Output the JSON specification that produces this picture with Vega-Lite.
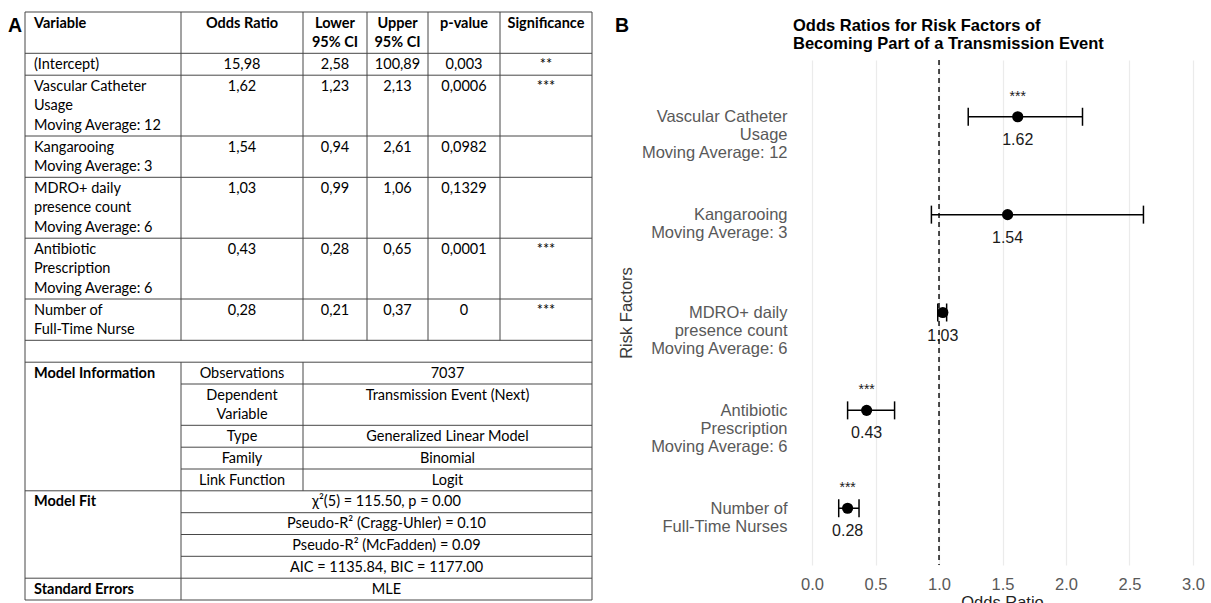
{
  "$schema": "https://vega.github.io/schema/vega-lite/v6.json",
  "width": 418,
  "height": 505,
  "autosize": {"type": "none"},
  "padding": {"left": 793, "top": 60, "right": 0, "bottom": 38},
  "background": "#ffffff",
  "config": {"view": {"stroke": null}, "font": "Liberation Sans"},
  "params": [{"name": "colEdges", "value": [0, 156, 278, 342, 403, 475, 567]}],
  "title": {
    "text": ["Odds Ratios for Risk Factors of", "Becoming Part of a Transmission Event"],
    "anchor": "start",
    "frame": "group",
    "font": "Liberation Sans",
    "fontSize": 16.5,
    "fontWeight": "bold",
    "color": "#000000",
    "lineHeight": 18,
    "baseline": "top",
    "offset": 0,
    "dy": 41
  },
  "datasets": {
    "factors": [
      {"factor": "Vascular Catheter\nUsage\nMoving Average: 12", "or": 1.62, "lower": 1.23, "upper": 2.13, "sig": "***"},
      {"factor": "Kangarooing\nMoving Average: 3", "or": 1.54, "lower": 0.94, "upper": 2.61, "sig": ""},
      {"factor": "MDRO+ daily\npresence count\nMoving Average: 6", "or": 1.03, "lower": 0.99, "upper": 1.06, "sig": ""},
      {"factor": "Antibiotic\nPrescription\nMoving Average: 6", "or": 0.43, "lower": 0.28, "upper": 0.65, "sig": "***"},
      {"factor": "Number of\nFull-Time Nurses", "or": 0.28, "lower": 0.21, "upper": 0.37, "sig": "***"}
    ],
    "reference": [{"nullEffect": 1}],
    "panels": [{"panel": "A", "edge": 0}, {"panel": "B", "edge": 6}],
    "cells": [
      {"line": 0, "c0": 0, "c1": 1, "text": "Variable", "kind": "heading"},
      {"line": 0, "c0": 1, "c1": 2, "text": "Odds Ratio", "kind": "heading"},
      {"line": 0, "c0": 2, "c1": 3, "text": "Lower\n95% CI", "kind": "heading"},
      {"line": 0, "c0": 3, "c1": 4, "text": "Upper\n95% CI", "kind": "heading"},
      {"line": 0, "c0": 4, "c1": 5, "text": "p-value", "kind": "heading"},
      {"line": 0, "c0": 5, "c1": 6, "text": "Significance", "kind": "heading"},
      {"line": 2, "c0": 0, "c1": 1, "text": "(Intercept)", "kind": "body"},
      {"line": 2, "c0": 1, "c1": 2, "text": "15,98", "kind": "body"},
      {"line": 2, "c0": 2, "c1": 3, "text": "2,58", "kind": "body"},
      {"line": 2, "c0": 3, "c1": 4, "text": "100,89", "kind": "body"},
      {"line": 2, "c0": 4, "c1": 5, "text": "0,003", "kind": "body"},
      {"line": 2, "c0": 5, "c1": 6, "text": "**", "kind": "body"},
      {"line": 3, "c0": 0, "c1": 1, "text": "Vascular Catheter\nUsage\nMoving Average: 12", "kind": "body"},
      {"line": 3, "c0": 1, "c1": 2, "text": "1,62", "kind": "body"},
      {"line": 3, "c0": 2, "c1": 3, "text": "1,23", "kind": "body"},
      {"line": 3, "c0": 3, "c1": 4, "text": "2,13", "kind": "body"},
      {"line": 3, "c0": 4, "c1": 5, "text": "0,0006", "kind": "body"},
      {"line": 3, "c0": 5, "c1": 6, "text": "***", "kind": "body"},
      {"line": 6, "c0": 0, "c1": 1, "text": "Kangarooing\nMoving Average: 3", "kind": "body"},
      {"line": 6, "c0": 1, "c1": 2, "text": "1,54", "kind": "body"},
      {"line": 6, "c0": 2, "c1": 3, "text": "0,94", "kind": "body"},
      {"line": 6, "c0": 3, "c1": 4, "text": "2,61", "kind": "body"},
      {"line": 6, "c0": 4, "c1": 5, "text": "0,0982", "kind": "body"},
      {"line": 8, "c0": 0, "c1": 1, "text": "MDRO+ daily\npresence count\nMoving Average: 6", "kind": "body"},
      {"line": 8, "c0": 1, "c1": 2, "text": "1,03", "kind": "body"},
      {"line": 8, "c0": 2, "c1": 3, "text": "0,99", "kind": "body"},
      {"line": 8, "c0": 3, "c1": 4, "text": "1,06", "kind": "body"},
      {"line": 8, "c0": 4, "c1": 5, "text": "0,1329", "kind": "body"},
      {"line": 11, "c0": 0, "c1": 1, "text": "Antibiotic\nPrescription\nMoving Average: 6", "kind": "body"},
      {"line": 11, "c0": 1, "c1": 2, "text": "0,43", "kind": "body"},
      {"line": 11, "c0": 2, "c1": 3, "text": "0,28", "kind": "body"},
      {"line": 11, "c0": 3, "c1": 4, "text": "0,65", "kind": "body"},
      {"line": 11, "c0": 4, "c1": 5, "text": "0,0001", "kind": "body"},
      {"line": 11, "c0": 5, "c1": 6, "text": "***", "kind": "body"},
      {"line": 14, "c0": 0, "c1": 1, "text": "Number of\nFull-Time Nurse", "kind": "body"},
      {"line": 14, "c0": 1, "c1": 2, "text": "0,28", "kind": "body"},
      {"line": 14, "c0": 2, "c1": 3, "text": "0,21", "kind": "body"},
      {"line": 14, "c0": 3, "c1": 4, "text": "0,37", "kind": "body"},
      {"line": 14, "c0": 4, "c1": 5, "text": "0", "kind": "body"},
      {"line": 14, "c0": 5, "c1": 6, "text": "***", "kind": "body"},
      {"line": 17, "c0": 0, "c1": 1, "text": "Model Information", "kind": "heading"},
      {"line": 17, "c0": 1, "c1": 2, "text": "Observations", "kind": "body"},
      {"line": 17, "c0": 2, "c1": 6, "text": "7037", "kind": "body"},
      {"line": 18, "c0": 1, "c1": 2, "text": "Dependent\nVariable", "kind": "body"},
      {"line": 18, "c0": 2, "c1": 6, "text": "Transmission Event (Next)", "kind": "body"},
      {"line": 20, "c0": 1, "c1": 2, "text": "Type", "kind": "body"},
      {"line": 20, "c0": 2, "c1": 6, "text": "Generalized Linear Model", "kind": "body"},
      {"line": 21, "c0": 1, "c1": 2, "text": "Family", "kind": "body"},
      {"line": 21, "c0": 2, "c1": 6, "text": "Binomial", "kind": "body"},
      {"line": 22, "c0": 1, "c1": 2, "text": "Link Function", "kind": "body"},
      {"line": 22, "c0": 2, "c1": 6, "text": "Logit", "kind": "body"},
      {"line": 23, "c0": 0, "c1": 1, "text": "Model Fit", "kind": "heading"},
      {"line": 23, "c0": 1, "c1": 6, "text": "χ²(5) = 115.50, p = 0.00", "kind": "body"},
      {"line": 24, "c0": 1, "c1": 6, "text": "Pseudo-R² (Cragg-Uhler) = 0.10", "kind": "body"},
      {"line": 25, "c0": 1, "c1": 6, "text": "Pseudo-R² (McFadden) = 0.09", "kind": "body"},
      {"line": 26, "c0": 1, "c1": 6, "text": "AIC = 1135.84, BIC = 1177.00", "kind": "body"},
      {"line": 27, "c0": 0, "c1": 1, "text": "Standard Errors", "kind": "heading"},
      {"line": 27, "c0": 1, "c1": 6, "text": "MLE", "kind": "body"}
    ],
    "hlines": [
      {"line": 0, "c0": 0, "c1": 6}, {"line": 2, "c0": 0, "c1": 6}, {"line": 3, "c0": 0, "c1": 6},
      {"line": 6, "c0": 0, "c1": 6}, {"line": 8, "c0": 0, "c1": 6}, {"line": 11, "c0": 0, "c1": 6},
      {"line": 14, "c0": 0, "c1": 6}, {"line": 16, "c0": 0, "c1": 6}, {"line": 17, "c0": 0, "c1": 6},
      {"line": 18, "c0": 1, "c1": 6}, {"line": 20, "c0": 1, "c1": 6}, {"line": 21, "c0": 1, "c1": 6},
      {"line": 22, "c0": 1, "c1": 6}, {"line": 23, "c0": 0, "c1": 6}, {"line": 24, "c0": 1, "c1": 6},
      {"line": 25, "c0": 1, "c1": 6}, {"line": 26, "c0": 1, "c1": 6}, {"line": 27, "c0": 0, "c1": 6},
      {"line": 28, "c0": 0, "c1": 6}
    ],
    "vlines": [
      {"col": 0, "l0": 0, "l1": 28}, {"col": 6, "l0": 0, "l1": 28},
      {"col": 1, "l0": 0, "l1": 16}, {"col": 1, "l0": 17, "l1": 28},
      {"col": 2, "l0": 0, "l1": 16}, {"col": 2, "l0": 17, "l1": 23},
      {"col": 3, "l0": 0, "l1": 16}, {"col": 4, "l0": 0, "l1": 16}, {"col": 5, "l0": 0, "l1": 16}
    ]
  },
  "layer": [
    {
      "data": {"name": "factors"},
      "mark": {"type": "rule", "color": "#000000", "strokeWidth": 1.5},
      "encoding": {
        "x": {"field": "lower", "type": "quantitative",
          "scale": {"domain": [-0.15, 3.142], "nice": false, "zero": false},
          "axis": {"title": "Odds Ratio", "values": [0, 0.5, 1, 1.5, 2, 2.5, 3], "format": ".1f",
            "labelFont": "Liberation Sans", "labelFontSize": 16.5, "labelColor": "#595959", "labelPadding": 11,
            "labelFlush": false, "ticks": false, "tickSize": 0, "domain": false,
            "grid": true, "gridColor": "#EBEBEB", "gridWidth": 1.2,
            "titleFont": "Liberation Sans", "titleFontSize": 16.5, "titleFontWeight": "normal",
            "titleColor": "#222222", "titlePadding": 2}},
        "x2": {"field": "upper"},
        "y": {"field": "factor", "type": "nominal", "sort": null,
          "scale": {"type": "point", "padding": 0.58},
          "axis": {"title": "Risk Factors", "labelExpr": "split(datum.value, '\\n')",
            "labelFont": "Liberation Sans", "labelFontSize": 16.5, "labelColor": "#595959",
            "labelLineHeight": 18, "labelAlign": "right", "labelBaseline": "middle", "labelPadding": 6,
            "labelLimit": 0, "ticks": false, "tickSize": 0, "domain": false, "grid": false,
            "titleFont": "Liberation Sans", "titleFontSize": 16.5, "titleFontWeight": "normal",
            "titleColor": "#3a3a3a", "titlePadding": 6}}
      }
    },
    {
      "data": {"name": "factors"},
      "mark": {"type": "tick", "size": 18, "thickness": 1.5, "color": "#000000", "opacity": 1},
      "encoding": {
        "x": {"field": "lower", "type": "quantitative", "scale": {"domain": [-0.15, 3.142], "nice": false, "zero": false}, "axis": null},
        "y": {"field": "factor", "type": "nominal", "sort": null, "scale": {"type": "point", "padding": 0.58}, "axis": null}
      }
    },
    {
      "data": {"name": "factors"},
      "mark": {"type": "tick", "size": 18, "thickness": 1.5, "color": "#000000", "opacity": 1},
      "encoding": {
        "x": {"field": "upper", "type": "quantitative", "scale": {"domain": [-0.15, 3.142], "nice": false, "zero": false}, "axis": null},
        "y": {"field": "factor", "type": "nominal", "sort": null, "scale": {"type": "point", "padding": 0.58}, "axis": null}
      }
    },
    {
      "data": {"name": "factors"},
      "mark": {"type": "point", "filled": true, "size": 125, "color": "#000000", "opacity": 1},
      "encoding": {
        "x": {"field": "or", "type": "quantitative", "scale": {"domain": [-0.15, 3.142], "nice": false, "zero": false}, "axis": null},
        "y": {"field": "factor", "type": "nominal", "sort": null, "scale": {"type": "point", "padding": 0.58}, "axis": null}
      }
    },
    {
      "data": {"name": "factors"},
      "mark": {"type": "text", "dy": 23, "font": "Liberation Sans", "fontSize": 16, "color": "#1a1a1a", "baseline": "middle"},
      "encoding": {
        "x": {"field": "or", "type": "quantitative", "scale": {"domain": [-0.15, 3.142], "nice": false, "zero": false}, "axis": null},
        "y": {"field": "factor", "type": "nominal", "sort": null, "scale": {"type": "point", "padding": 0.58}, "axis": null},
        "text": {"field": "or", "type": "quantitative", "format": ".2f"}
      }
    },
    {
      "data": {"name": "factors"},
      "mark": {"type": "text", "dy": -20, "font": "Liberation Sans", "fontSize": 14, "color": "#1a1a1a", "baseline": "middle"},
      "encoding": {
        "x": {"field": "or", "type": "quantitative", "scale": {"domain": [-0.15, 3.142], "nice": false, "zero": false}, "axis": null},
        "y": {"field": "factor", "type": "nominal", "sort": null, "scale": {"type": "point", "padding": 0.58}, "axis": null},
        "text": {"field": "sig", "type": "nominal"}
      }
    },
    {
      "data": {"name": "reference"},
      "mark": {"type": "rule", "color": "#000000", "strokeWidth": 1.4, "strokeDash": [5, 4]},
      "encoding": {
        "x": {"field": "nullEffect", "type": "quantitative", "scale": {"domain": [-0.15, 3.142], "nice": false, "zero": false}, "axis": null}
      }
    },
    {
      "data": {"name": "hlines"},
      "transform": [
        {"calculate": "colEdges[datum.c0]", "as": "xa"},
        {"calculate": "colEdges[datum.c1]", "as": "xb"}
      ],
      "mark": {"type": "rule", "color": "#474747", "strokeWidth": 1},
      "encoding": {
        "x": {"field": "xa", "type": "quantitative", "scale": {"domain": [0, 567], "range": [-768, -201], "nice": false, "zero": false}, "axis": null},
        "x2": {"field": "xb"},
        "y": {"field": "line", "type": "quantitative", "scale": {"domain": [0, 2, 3, 6, 8, 11, 14, 16, 17, 18, 20, 21, 22, 23, 24, 25, 26, 27, 28], "range": [-48, -6.7, 15.2, 76, 117.3, 178.2, 239, 280.3, 302.2, 324, 365.3, 387.2, 409, 430.8, 452.7, 474.5, 496.3, 518.2, 540], "nice": false, "zero": false}, "axis": null}
      }
    },
    {
      "data": {"name": "vlines"},
      "transform": [{"calculate": "colEdges[datum.col]", "as": "xa"}],
      "mark": {"type": "rule", "color": "#474747", "strokeWidth": 1},
      "encoding": {
        "x": {"field": "xa", "type": "quantitative", "scale": {"domain": [0, 567], "range": [-768, -201], "nice": false, "zero": false}, "axis": null},
        "y": {"field": "l0", "type": "quantitative", "scale": {"domain": [0, 2, 3, 6, 8, 11, 14, 16, 17, 18, 20, 21, 22, 23, 24, 25, 26, 27, 28], "range": [-48, -6.7, 15.2, 76, 117.3, 178.2, 239, 280.3, 302.2, 324, 365.3, 387.2, 409, 430.8, 452.7, 474.5, 496.3, 518.2, 540], "nice": false, "zero": false}, "axis": null},
        "y2": {"field": "l1"}
      }
    },
    {
      "data": {"name": "cells"},
      "transform": [
        {"filter": "datum.kind == 'heading' && datum.c0 == 0"},
        {"calculate": "colEdges[datum.c0]", "as": "xa"}
      ],
      "mark": {"type": "text", "align": "left", "baseline": "top", "dx": 9, "dy": 4.5, "font": "Lato", "fontSize": 14.5, "fontWeight": "bold", "color": "#000000", "lineBreak": "\n", "lineHeight": 19.5},
      "encoding": {
        "x": {"field": "xa", "type": "quantitative", "scale": {"domain": [0, 567], "range": [-768, -201], "nice": false, "zero": false}, "axis": null},
        "y": {"field": "line", "type": "quantitative", "scale": {"domain": [0, 2, 3, 6, 8, 11, 14, 16, 17, 18, 20, 21, 22, 23, 24, 25, 26, 27, 28], "range": [-48, -6.7, 15.2, 76, 117.3, 178.2, 239, 280.3, 302.2, 324, 365.3, 387.2, 409, 430.8, 452.7, 474.5, 496.3, 518.2, 540], "nice": false, "zero": false}, "axis": null},
        "text": {"field": "text", "type": "nominal"}
      }
    },
    {
      "data": {"name": "cells"},
      "transform": [
        {"filter": "datum.kind == 'body' && datum.c0 == 0"},
        {"calculate": "colEdges[datum.c0]", "as": "xa"}
      ],
      "mark": {"type": "text", "align": "left", "baseline": "top", "dx": 9, "dy": 4.5, "font": "Lato", "fontSize": 14.5, "color": "#000000", "lineBreak": "\n", "lineHeight": 19.5},
      "encoding": {
        "x": {"field": "xa", "type": "quantitative", "scale": {"domain": [0, 567], "range": [-768, -201], "nice": false, "zero": false}, "axis": null},
        "y": {"field": "line", "type": "quantitative", "scale": {"domain": [0, 2, 3, 6, 8, 11, 14, 16, 17, 18, 20, 21, 22, 23, 24, 25, 26, 27, 28], "range": [-48, -6.7, 15.2, 76, 117.3, 178.2, 239, 280.3, 302.2, 324, 365.3, 387.2, 409, 430.8, 452.7, 474.5, 496.3, 518.2, 540], "nice": false, "zero": false}, "axis": null},
        "text": {"field": "text", "type": "nominal"}
      }
    },
    {
      "data": {"name": "cells"},
      "transform": [
        {"filter": "datum.kind == 'heading' && datum.c0 > 0"},
        {"calculate": "(colEdges[datum.c0] + colEdges[datum.c1]) / 2", "as": "xm"}
      ],
      "mark": {"type": "text", "align": "center", "baseline": "top", "dy": 4.5, "font": "Lato", "fontSize": 14.5, "fontWeight": "bold", "color": "#000000", "lineBreak": "\n", "lineHeight": 19.5},
      "encoding": {
        "x": {"field": "xm", "type": "quantitative", "scale": {"domain": [0, 567], "range": [-768, -201], "nice": false, "zero": false}, "axis": null},
        "y": {"field": "line", "type": "quantitative", "scale": {"domain": [0, 2, 3, 6, 8, 11, 14, 16, 17, 18, 20, 21, 22, 23, 24, 25, 26, 27, 28], "range": [-48, -6.7, 15.2, 76, 117.3, 178.2, 239, 280.3, 302.2, 324, 365.3, 387.2, 409, 430.8, 452.7, 474.5, 496.3, 518.2, 540], "nice": false, "zero": false}, "axis": null},
        "text": {"field": "text", "type": "nominal"}
      }
    },
    {
      "data": {"name": "cells"},
      "transform": [
        {"filter": "datum.kind == 'body' && datum.c0 > 0"},
        {"calculate": "(colEdges[datum.c0] + colEdges[datum.c1]) / 2", "as": "xm"}
      ],
      "mark": {"type": "text", "align": "center", "baseline": "top", "dy": 4.5, "font": "Lato", "fontSize": 14.5, "color": "#000000", "lineBreak": "\n", "lineHeight": 19.5},
      "encoding": {
        "x": {"field": "xm", "type": "quantitative", "scale": {"domain": [0, 567], "range": [-768, -201], "nice": false, "zero": false}, "axis": null},
        "y": {"field": "line", "type": "quantitative", "scale": {"domain": [0, 2, 3, 6, 8, 11, 14, 16, 17, 18, 20, 21, 22, 23, 24, 25, 26, 27, 28], "range": [-48, -6.7, 15.2, 76, 117.3, 178.2, 239, 280.3, 302.2, 324, 365.3, 387.2, 409, 430.8, 452.7, 474.5, 496.3, 518.2, 540], "nice": false, "zero": false}, "axis": null},
        "text": {"field": "text", "type": "nominal"}
      }
    },
    {
      "data": {"name": "panels"},
      "transform": [
        {"filter": "datum.panel == 'A'"},
        {"calculate": "colEdges[datum.edge]", "as": "xa"}
      ],
      "mark": {"type": "text", "align": "right", "baseline": "alphabetic", "dx": -3, "dy": 20, "font": "Liberation Sans", "fontSize": 19.5, "fontWeight": "bold", "color": "#000000"},
      "encoding": {
        "x": {"field": "xa", "type": "quantitative", "scale": {"domain": [0, 567], "range": [-768, -201], "nice": false, "zero": false}, "axis": null},
        "y": {"datum": 0, "type": "quantitative", "scale": {"domain": [0, 28], "range": [-48, 540], "nice": false, "zero": false}, "axis": null},
        "text": {"field": "panel", "type": "nominal"}
      }
    },
    {
      "data": {"name": "panels"},
      "transform": [
        {"filter": "datum.panel == 'B'"},
        {"calculate": "colEdges[datum.edge]", "as": "xa"}
      ],
      "mark": {"type": "text", "align": "left", "baseline": "alphabetic", "dx": 23, "dy": 20, "font": "Liberation Sans", "fontSize": 19.5, "fontWeight": "bold", "color": "#000000"},
      "encoding": {
        "x": {"field": "xa", "type": "quantitative", "scale": {"domain": [0, 567], "range": [-768, -201], "nice": false, "zero": false}, "axis": null},
        "y": {"datum": 0, "type": "quantitative", "scale": {"domain": [0, 28], "range": [-48, 540], "nice": false, "zero": false}, "axis": null},
        "text": {"field": "panel", "type": "nominal"}
      }
    }
  ],
  "resolve": {"scale": {"x": "independent", "y": "independent"}, "axis": {"x": "independent", "y": "independent"}}
}
